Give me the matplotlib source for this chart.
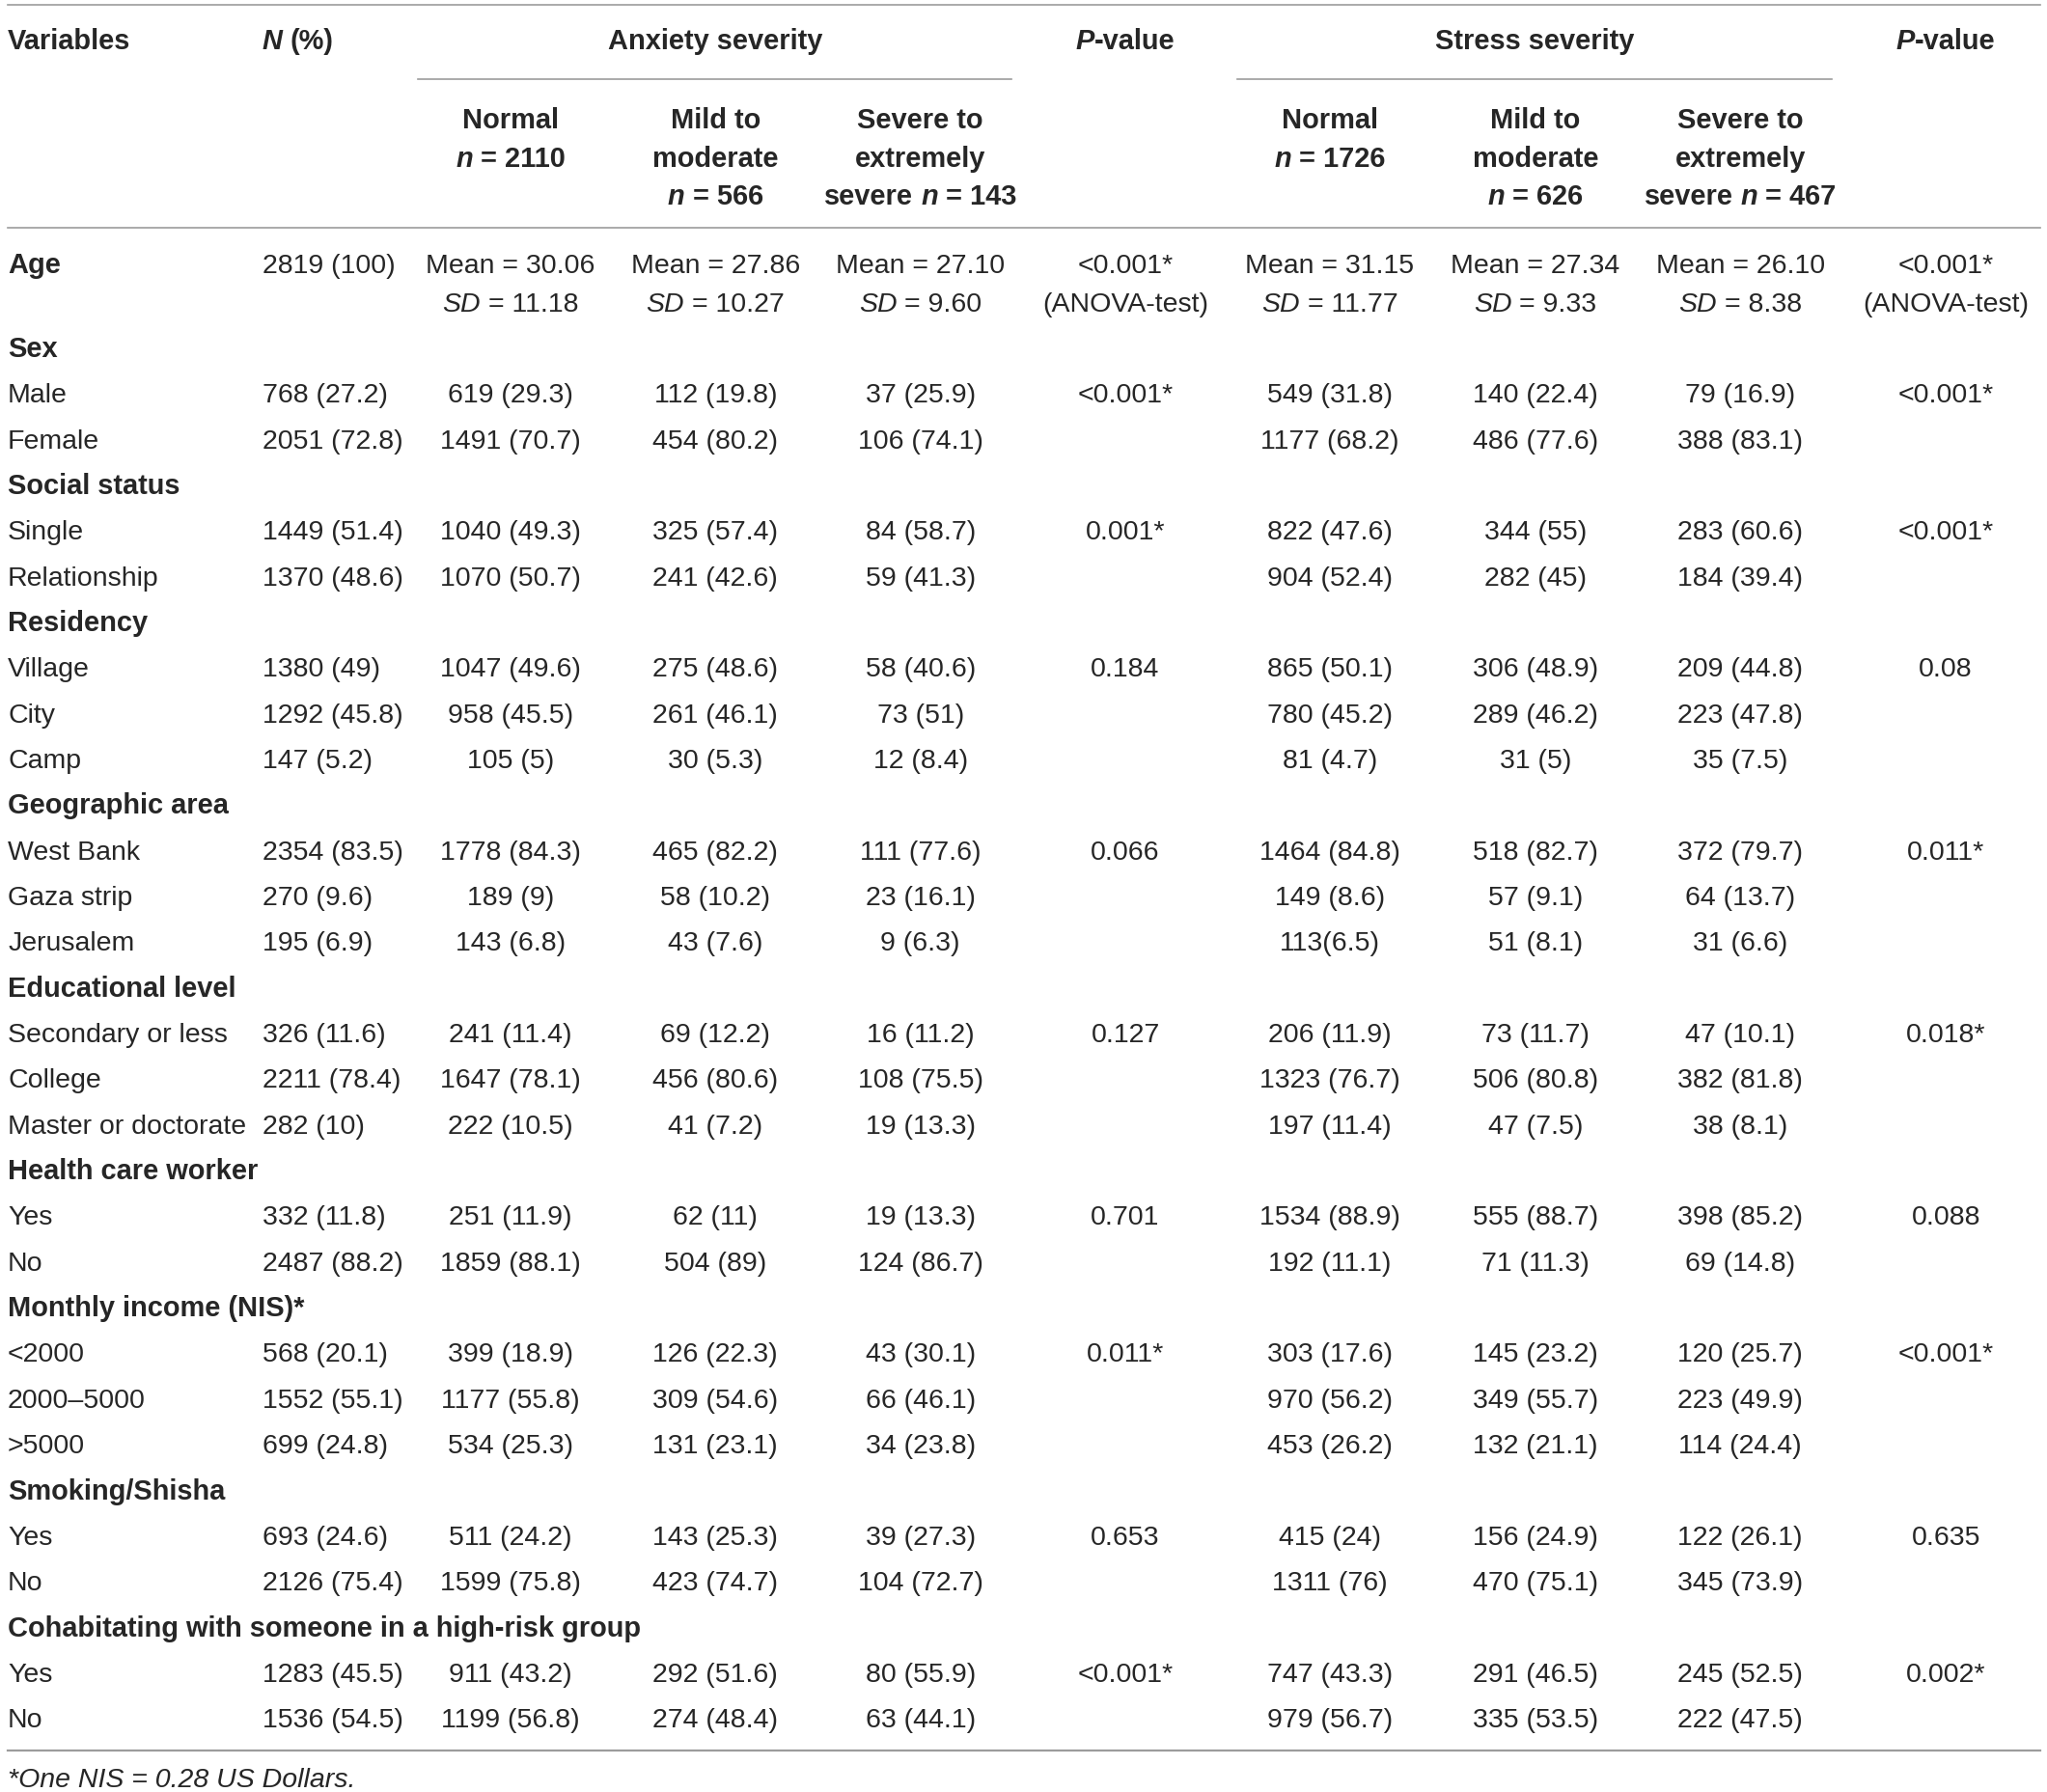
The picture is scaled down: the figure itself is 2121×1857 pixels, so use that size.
import matplotlib
matplotlib.use("Agg")
import matplotlib.pyplot as plt

plt.rcParams['font.family'] = ['Liberation Sans', 'DejaVu Sans']

# ---- table data ----
anx_groups = [["Normal", "n = 2110"], ["Mild to", "moderate", "n = 566"], ["Severe to", "extremely", "severe n = 143"]]
str_groups = [["Normal", "n = 1726"], ["Mild to", "moderate", "n = 626"], ["Severe to", "extremely", "severe n = 467"]]

age_n = "2819 (100)"
age_mean = ["30.06", "27.86", "27.10", "31.15", "27.34", "26.10"]
age_sd = ["11.18", "10.27", "9.60", "11.77", "9.33", "8.38"]
age_p = ["<0.001*", "<0.001*"]

labels = ["Sex", "Male", "Female",
          "Social status", "Single", "Relationship",
          "Residency", "Village", "City", "Camp",
          "Geographic area", "West Bank", "Gaza strip", "Jerusalem",
          "Educational level", "Secondary or less", "College", "Master or doctorate",
          "Health care worker", "Yes", "No",
          "Monthly income (NIS)*", "<2000", "2000\u20135000", ">5000",
          "Smoking/Shisha", "Yes", "No",
          "Cohabitating with someone in a high-risk group", "Yes", "No"]
is_group = [1, 0, 0, 1, 0, 0, 1, 0, 0, 0, 1, 0, 0, 0, 1, 0, 0, 0, 1, 0, 0, 1, 0, 0, 0, 1, 0, 0, 1, 0, 0]

n_total = ["", "768 (27.2)", "2051 (72.8)", "", "1449 (51.4)", "1370 (48.6)",
           "", "1380 (49)", "1292 (45.8)", "147 (5.2)",
           "", "2354 (83.5)", "270 (9.6)", "195 (6.9)",
           "", "326 (11.6)", "2211 (78.4)", "282 (10)",
           "", "332 (11.8)", "2487 (88.2)",
           "", "568 (20.1)", "1552 (55.1)", "699 (24.8)",
           "", "693 (24.6)", "2126 (75.4)",
           "", "1283 (45.5)", "1536 (54.5)"]
anx_normal = ["", "619 (29.3)", "1491 (70.7)", "", "1040 (49.3)", "1070 (50.7)",
              "", "1047 (49.6)", "958 (45.5)", "105 (5)",
              "", "1778 (84.3)", "189 (9)", "143 (6.8)",
              "", "241 (11.4)", "1647 (78.1)", "222 (10.5)",
              "", "251 (11.9)", "1859 (88.1)",
              "", "399 (18.9)", "1177 (55.8)", "534 (25.3)",
              "", "511 (24.2)", "1599 (75.8)",
              "", "911 (43.2)", "1199 (56.8)"]
anx_mild = ["", "112 (19.8)", "454 (80.2)", "", "325 (57.4)", "241 (42.6)",
            "", "275 (48.6)", "261 (46.1)", "30 (5.3)",
            "", "465 (82.2)", "58 (10.2)", "43 (7.6)",
            "", "69 (12.2)", "456 (80.6)", "41 (7.2)",
            "", "62 (11)", "504 (89)",
            "", "126 (22.3)", "309 (54.6)", "131 (23.1)",
            "", "143 (25.3)", "423 (74.7)",
            "", "292 (51.6)", "274 (48.4)"]
anx_severe = ["", "37 (25.9)", "106 (74.1)", "", "84 (58.7)", "59 (41.3)",
              "", "58 (40.6)", "73 (51)", "12 (8.4)",
              "", "111 (77.6)", "23 (16.1)", "9 (6.3)",
              "", "16 (11.2)", "108 (75.5)", "19 (13.3)",
              "", "19 (13.3)", "124 (86.7)",
              "", "43 (30.1)", "66 (46.1)", "34 (23.8)",
              "", "39 (27.3)", "104 (72.7)",
              "", "80 (55.9)", "63 (44.1)"]
anx_p = ["", "<0.001*", "", "", "0.001*", "",
         "", "0.184", "", "",
         "", "0.066", "", "",
         "", "0.127", "", "",
         "", "0.701", "",
         "", "0.011*", "", "",
         "", "0.653", "",
         "", "<0.001*", ""]
str_normal = ["", "549 (31.8)", "1177 (68.2)", "", "822 (47.6)", "904 (52.4)",
              "", "865 (50.1)", "780 (45.2)", "81 (4.7)",
              "", "1464 (84.8)", "149 (8.6)", "113(6.5)",
              "", "206 (11.9)", "1323 (76.7)", "197 (11.4)",
              "", "1534 (88.9)", "192 (11.1)",
              "", "303 (17.6)", "970 (56.2)", "453 (26.2)",
              "", "415 (24)", "1311 (76)",
              "", "747 (43.3)", "979 (56.7)"]
str_mild = ["", "140 (22.4)", "486 (77.6)", "", "344 (55)", "282 (45)",
            "", "306 (48.9)", "289 (46.2)", "31 (5)",
            "", "518 (82.7)", "57 (9.1)", "51 (8.1)",
            "", "73 (11.7)", "506 (80.8)", "47 (7.5)",
            "", "555 (88.7)", "71 (11.3)",
            "", "145 (23.2)", "349 (55.7)", "132 (21.1)",
            "", "156 (24.9)", "470 (75.1)",
            "", "291 (46.5)", "335 (53.5)"]
str_severe = ["", "79 (16.9)", "388 (83.1)", "", "283 (60.6)", "184 (39.4)",
              "", "209 (44.8)", "223 (47.8)", "35 (7.5)",
              "", "372 (79.7)", "64 (13.7)", "31 (6.6)",
              "", "47 (10.1)", "382 (81.8)", "38 (8.1)",
              "", "398 (85.2)", "69 (14.8)",
              "", "120 (25.7)", "223 (49.9)", "114 (24.4)",
              "", "122 (26.1)", "345 (73.9)",
              "", "245 (52.5)", "222 (47.5)"]
str_p = ["", "<0.001*", "", "", "<0.001*", "",
         "", "0.08", "", "",
         "", "0.011*", "", "",
         "", "0.018*", "", "",
         "", "0.088", "",
         "", "<0.001*", "", "",
         "", "0.635", "",
         "", "0.002*", ""]
footnote = "*One NIS = 0.28 US Dollars."

# ---- layout ----
W, H = 1568, 1373.6
S = 2121 / W
FS = 20.5
FS_B = 20.9
TXT = "#262626"
LINE = "#9c9c9c"
cols_x = [391, 548, 705, 862, 1018.5, 1176, 1333, 1490.5]
x_label = 6
x_n = 201
cap = 7.5

fig = plt.figure(figsize=(21.21, 18.58), dpi=100)
ax = fig.add_axes([0, 0, 1, 1])
ax.set_xlim(0, W)
ax.set_ylim(H, 0)
ax.axis('off')
rend = fig.canvas.get_renderer()


def tw(s, bold=False, italic=False):
    t = ax.text(0, 0, s, fontsize=FS_B if bold else FS,
                fontweight='bold' if bold else 'normal',
                fontstyle='italic' if italic else 'normal')
    w = t.get_window_extent(rend).width / S
    t.remove()
    return w


def txt(x, y, s, ha='center', bold=False, italic=False):
    ax.text(x, y + cap, s, ha=ha, va='baseline', fontsize=FS_B if bold else FS, color=TXT,
            fontweight='bold' if bold else 'normal',
            fontstyle='italic' if italic else 'normal')


def rich(x, y, parts, ha='center', bold=False):
    # parts: list of (string, italic)
    sw = tw('a a', bold) - tw('aa', bold)
    sizes = []
    for s, it in parts:
        core = s.strip()
        lead = len(s) - len(s.lstrip())
        trail = len(s) - len(s.rstrip())
        w = tw(core, bold, it) if core else 0
        sizes.append((lead * sw, w, trail * sw))
    total = sum(a + b + c for a, b, c in sizes)
    cur = x - total / 2 if ha == 'center' else x
    for (s, it), (a, b, c) in zip(parts, sizes):
        cur += a
        if s.strip():
            txt(cur, y, s.strip(), ha='left', bold=bold, italic=it)
        cur += b + c


def italic_n(s):
    # split "... n = 123" into runs with italic n
    i = s.index("n =")
    parts = []
    if i > 0:
        parts.append((s[:i], False))
    parts.append(("n", True))
    parts.append((s[i + 1:], False))
    return parts


# lines
ax.plot([6, 1563], [4.5, 4.5], color=LINE, lw=1.2)
ax.plot([320, 775], [61, 61], color=LINE, lw=1.2)
ax.plot([948, 1403], [61, 61], color=LINE, lw=1.2)
ax.plot([6, 1563], [175.5, 175.5], color=LINE, lw=1.2)
ax.plot([6, 1563], [1342, 1342], color=LINE, lw=1.6)

# header
y0 = 30.5
txt(x_label, y0, "Variables", ha='left', bold=True)
rich(x_n, y0, [("N", True), (" (%)", False)], ha='left', bold=True)
txt((cols_x[0] + cols_x[2]) / 2, y0, "Anxiety severity", bold=True)
rich(cols_x[3], y0, [("P", True), ("-value", False)], bold=True)
txt((cols_x[4] + cols_x[6]) / 2, y0, "Stress severity", bold=True)
rich(cols_x[7], y0, [("P", True), ("-value", False)], bold=True)

sub_y = [91, 120.5, 149.5]
for grp, xs in ((anx_groups, cols_x[0:3]), (str_groups, cols_x[4:7])):
    for lines_, x in zip(grp, xs):
        for j, line in enumerate(lines_):
            if "n =" in line:
                rich(x, sub_y[j], italic_n(line), bold=True)
            else:
                txt(x, sub_y[j], line, bold=True)

# age row
ya, yb = 202, 231
txt(x_label, ya, "Age", ha='left', bold=True)
txt(x_n, ya, age_n, ha='left')
for k, xi in enumerate([0, 1, 2, 4, 5, 6]):
    txt(cols_x[xi], ya, "Mean = " + age_mean[k])
    rich(cols_x[xi], yb, [("SD", True), (" = " + age_sd[k], False)])
for k, xi in enumerate([3, 7]):
    txt(cols_x[xi], ya, age_p[k])
    txt(cols_x[xi], yb, "(ANOVA-test)")

# body rows
cols = [anx_normal, anx_mild, anx_severe, anx_p, str_normal, str_mild, str_severe, str_p]
for i, lab in enumerate(labels):
    y = 266 + 35 * i
    txt(x_label, y, lab, ha='left', bold=bool(is_group[i]))
    if n_total[i]:
        txt(x_n, y, n_total[i], ha='left')
    for col, x in zip(cols, cols_x):
        if col[i]:
            txt(x, y, col[i])

txt(x_label, 1362, footnote, ha='left', italic=True)

fig.savefig("out.png", dpi=100, facecolor='white')
